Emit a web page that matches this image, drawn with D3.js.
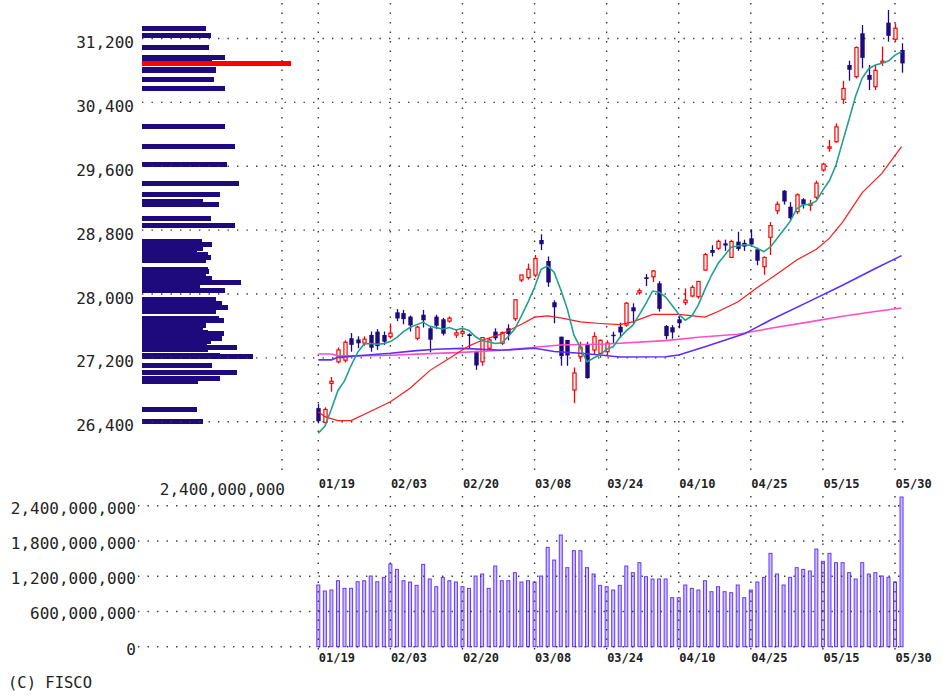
<!DOCTYPE html>
<html><head><meta charset="utf-8">
<script src="https://cdn.jsdelivr.net/npm/d3@7"></script>
<style>body{margin:0;background:#fff}svg{display:block}</style>
</head><body>
<svg id="c" width="948" height="696"></svg>
<script>
// ---------- data ----------
const dates = ["01/19","01/20","01/23","01/24","01/25","01/26","01/27","01/30","01/31","02/01","02/02","02/03","02/06","02/07","02/08","02/09","02/10","02/13","02/14","02/15","02/16","02/17","02/20","02/21","02/22","02/24","02/27","02/28","03/01","03/02","03/03","03/06","03/07","03/08","03/09","03/10","03/13","03/14","03/15","03/16","03/17","03/20","03/22","03/23","03/24","03/27","03/28","03/29","03/30","03/31","04/03","04/04","04/05","04/06","04/07","04/10","04/11","04/12","04/13","04/14","04/17","04/18","04/19","04/20","04/21","04/24","04/25","04/26","04/27","04/28","05/01","05/02","05/08","05/09","05/10","05/11","05/12","05/15","05/16","05/17","05/18","05/19","05/22","05/23","05/24","05/25","05/26","05/29","05/30","05/31"];
const open = [26570,26390,26880,27150,27170,27445,27430,27385,27486,27528,27486,27465,27770,27760,27716,27445,27740,27570,27716,27683,27660,27486,27507,27495,27280,27150,27320,27528,27382,27570,27690,28175,28205,28237,28676,28413,27896,27465,27424,26797,27214,27361,27298,27257,27277,27490,27590,27611,27833,28016,28209,28216,28134,27599,27583,27683,27891,27975,27966,28300,28551,28572,28634,28459,28655,28640,28697,28559,28342,28710,29043,29294,29093,29031,29186,29114,29211,29553,29825,29907,30438,30868,30722,31265,30743,30596,30900,31398,31190,31056];
const high = [26620,26580,26960,27330,27420,27510,27470,27470,27530,27560,27530,27630,27810,27800,27730,27600,27800,27600,27740,27700,27720,27560,27560,27507,27290,27460,27450,27570,27530,27620,27930,28240,28380,28490,28747,28470,27920,27465,27424,27080,27400,27400,27520,27430,27420,27528,27640,27900,27883,28070,28250,28300,28160,27610,27610,27720,28070,28110,28162,28515,28610,28680,28680,28680,28780,28680,28810,28580,28470,28900,29160,29300,29150,29260,29200,29180,29420,29644,29929,30138,30670,30922,31100,31369,30868,30868,31097,31557,31390,31140];
const low = [26380,26360,26776,27130,27140,27277,27320,27350,27277,27300,27360,27440,27660,27620,27530,27420,27580,27270,27560,27480,27640,27450,27480,27320,27050,27100,27300,27420,27360,27420,27660,28150,28180,28210,28551,28090,27633,27101,27100,26632,27150,26940,27240,27200,27220,27382,27450,27590,27633,27990,28100,28150,27780,27430,27440,27570,27860,27960,27940,28290,28470,28550,28540,28450,28540,28540,28590,28360,28240,28488,29000,29120,28930,29000,29070,29040,29190,29532,29782,29895,30380,30671,30700,30827,30555,30555,30856,31160,31160,30772];
const close = [26405.23,26553.53,26906.04,27299.19,27395.01,27362.75,27382.56,27433.40,27327.11,27346.88,27402.05,27509.46,27693.65,27685.47,27606.46,27584.35,27670.98,27427.32,27602.77,27501.86,27696.44,27513.13,27531.94,27473.10,27104.32,27453.48,27423.96,27445.56,27516.53,27498.87,27927.47,28237.78,28309.16,28444.19,28623.15,28143.97,27832.96,27222.04,27229.48,27010.61,27333.79,26945.67,27466.61,27419.61,27385.25,27476.87,27518.25,27883.78,27782.93,28041.48,28188.15,28287.42,27813.26,27472.63,27518.31,27633.66,27923.37,28082.70,28156.97,28493.47,28514.78,28658.83,28606.76,28657.57,28564.37,28593.52,28620.07,28416.47,28457.68,28856.44,29123.18,29157.95,28949.88,29242.82,29122.18,29126.72,29388.30,29626.34,29842.99,30093.59,30573.93,30808.35,31086.82,30957.77,30682.68,30801.13,30916.31,31233.54,31328.16,30887.88];
// volume in millions of shares
const volume = [1050,948,965,1123,993,993,1106,1123,1203,1106,1180,1407,1316,1123,1101,1044,1401,1152,1021,1180,1123,1101,1021,993,1203,1237,993,1373,1123,1123,1260,1101,1123,1101,1203,1691,1475,1901,1345,1634,1634,1345,1237,1044,1021,965,1044,1373,1260,1430,1192,1152,1152,1152,834,834,1050,993,965,1123,936,1021,936,919,1050,834,965,1101,1180,1589,1237,1050,1180,1345,1316,1288,1662,1453,1589,1430,1430,1260,1152,1430,1237,1260,1203,1180,1101,2548];
// 5-day moving average (teal)
const ma5 = [26255.4,26342.2,26558.9,26791.0,26911.8,27103.3,27269.1,27374.6,27380.2,27370.5,27378.4,27403.8,27455.8,27527.5,27579.4,27615.9,27648.2,27594.9,27578.4,27557.5,27579.9,27548.3,27569.2,27543.3,27463.8,27415.2,27397.4,27380.1,27388.8,27467.7,27562.5,27725.2,27898.0,28083.5,28308.4,28351.7,28270.7,28053.3,27810.3,27487.8,27325.8,27148.3,27197.2,27235.3,27310.2,27338.8,27453.3,27536.8,27609.4,27740.7,27882.9,28036.8,28022.6,27960.6,27856.0,27745.1,27672.2,27726.1,27863.0,28058.0,28234.3,28381.4,28486.2,28586.3,28600.5,28616.2,28608.5,28570.4,28530.4,28588.8,28694.8,28802.3,28909.0,29066.1,29119.2,29119.9,29166.0,29301.3,29421.3,29615.6,29905.0,30189.0,30481.1,30704.1,30821.9,30867.4,30888.9,30918.3,30992.4,31033.4];
// 25-day MA (red), read at these day indices
const ma25Idx = [0,1,3,5,8,11,14,17,20,23,25,28,31,33,35,37,40,43,46,48,51,55,59,61,64,67,70,73,76,78,80,83,86,89];
const ma25Val = [26525,26463,26413,26413,26530,26650,26820,27040,27194,27350,27420,27500,27620,27710,27725,27700,27650,27630,27615,27650,27745,27745,27710,27780,27900,28080,28250,28425,28560,28700,28900,29270,29510,29845];
// 75-day MA (blue)
const ma75Idx = [0,2,3,11,15,18,22,28,33,36,40,43,46,53,55,59,65,69,75,80,85,89];
const ma75Val = [27175,27175,27206,27257,27290,27307,27319,27295,27320,27280,27257,27236,27210,27214,27236,27340,27500,27674,27910,28110,28320,28480];
// 200-day MA (pink)
const ma200Idx = [0,2,3,10,16,22,28,33,37,44,53,58,64,69,75,80,85,89];
const ma200Val = [27248,27248,27225,27230,27250,27268,27295,27332,27361,27374,27415,27457,27495,27570,27650,27720,27780,27825];

const priceTicks = [26400,27200,28000,28800,29600,30400,31200];
const volTicks = [0,600,1200,1800,2400];          // millions
const dateTicks = ["01/19","02/03","02/20","03/08","03/24","04/10","04/25","05/15","05/30"];
const profileMaxLabel = "2,400,000,000";
const copyright = "(C) FISCO";

// ---------- scales ----------
const svg = d3.select("#c");
const x = d3.scalePoint(dates, [318.3, 901.55]);
const y = d3.scaleLinear([26400, 31200], [421.7, 38.5]);
const yv = d3.scaleLinear([0, 2400], [646.7, 505.7]);
const xp = d3.scaleLinear([0, 2400], [142, 282]);

const NAVY = "#1f0a7d", RED = "#ff0000";
const MONO = "'DejaVu Sans Mono', 'Liberation Mono', monospace";
const dotted = g => g.attr("stroke", "#3a3a3a").attr("stroke-width", 1.4).attr("stroke-dasharray", "1.4,8.1").attr("fill", "none");

// ---------- volume-by-price profile ----------
const prof = svg.append("g").attr("shape-rendering", "crispEdges");
d3.range(dates.length - 1).forEach(i => {
  prof.append("rect").attr("x", xp(0)).attr("y", Math.round(y(close[i]) - 2.5))
    .attr("width", xp(volume[i]) - xp(0)).attr("height", 5)
    .attr("fill", NAVY);
});
const last = dates.length - 1;
prof.append("rect").attr("x", xp(0)).attr("y", Math.round(y(close[last]) - 2.5))
  .attr("width", xp(volume[last]) - xp(0)).attr("height", 5).attr("fill", RED);

// ---------- volume bars ----------
svg.append("g").selectAll("rect").data(dates).join("rect")
  .attr("x", d => x(d) - 1.5).attr("width", 3)
  .attr("y", (d, i) => yv(volume[i])).attr("height", (d, i) => yv(0) - yv(volume[i]))
  .attr("fill", "#cdbfff").attr("stroke", "#6236ff").attr("stroke-width", 1);

// ---------- grids ----------
const grid = svg.append("g");
priceTicks.forEach(p => grid.append("line").attr("x1", 142).attr("x2", 906).attr("y1", y(p)).attr("y2", y(p)).call(dotted));
volTicks.forEach(v => grid.append("line").attr("x1", 138).attr("x2", 906).attr("y1", yv(v)).attr("y2", yv(v)).call(dotted));
grid.append("line").attr("x1", xp(2400)).attr("x2", xp(2400)).attr("y1", 3).attr("y2", 471).call(dotted);
dateTicks.forEach(d => {
  grid.append("line").attr("x1", x(d)).attr("x2", x(d)).attr("y1", 3).attr("y2", 471).call(dotted);
  grid.append("line").attr("x1", x(d)).attr("x2", x(d)).attr("y1", 496).attr("y2", 651).call(dotted);
});

// ---------- candles ----------
const cg = svg.append("g");
dates.forEach((d, i) => {
  const up = close[i] >= open[i];
  const cx = Math.round(x(d)) + 0.5;
  const col = up ? RED : NAVY;
  cg.append("line").attr("x1", cx).attr("x2", cx).attr("y1", y(high[i])).attr("y2", y(low[i]))
    .attr("stroke", col).attr("stroke-width", 1.3);
  const top = y(Math.max(open[i], close[i])), bot = y(Math.min(open[i], close[i]));
  if (up) {
    cg.append("rect").attr("x", cx - 1.6).attr("width", 3.2).attr("y", top).attr("height", Math.max(bot - top, 1.2))
      .attr("fill", "#fff").attr("stroke", RED).attr("stroke-width", 1.2);
  } else {
    cg.append("rect").attr("x", cx - 2.2).attr("width", 4.4).attr("y", top).attr("height", Math.max(bot - top, 1.5))
      .attr("fill", NAVY);
  }
});

// ---------- moving averages ----------
const lineG = svg.append("g").attr("fill", "none");
const mk = (idx, val) => idx.map((k, j) => [x(dates[k]), y(val[j])]);
const ln = d3.line();
lineG.append("path").attr("d", ln(mk(ma200Idx, ma200Val))).attr("stroke", "#ff4fc8").attr("stroke-width", 1.6);
lineG.append("path").attr("d", ln(mk(ma75Idx, ma75Val))).attr("stroke", "#5a2eff").attr("stroke-width", 1.6);
lineG.append("path").attr("d", ln(mk(ma25Idx, ma25Val))).attr("stroke", "#ff1a1a").attr("stroke-width", 1.2);
lineG.append("path").attr("d", ln(dates.map((d, i) => [x(d), y(ma5[i])]))).attr("stroke", "#22a092").attr("stroke-width", 1.6);

// ---------- axes ----------
const pa = svg.append("g").attr("transform", "translate(142,0)")
  .call(d3.axisLeft(y).tickValues(priceTicks).tickFormat(d3.format(",")).tickSize(0).tickPadding(8));
const va = svg.append("g").attr("transform", "translate(140,0)")
  .call(d3.axisLeft(yv).tickValues(volTicks).tickFormat(v => d3.format(",")(v * 1e6)).tickSize(0).tickPadding(4));
[pa, va].forEach(a => { a.select(".domain").remove(); a.selectAll("text").attr("font-family", MONO).attr("font-size", 16).attr("fill", "#222"); });
pa.selectAll("text").attr("dy", "0.57em");
va.selectAll("text").attr("dy", "0.46em");

const xa1 = svg.append("g").attr("transform", "translate(0,476)").call(d3.axisBottom(x).tickValues(dateTicks).tickSize(0).tickPadding(0));
const xa2 = svg.append("g").attr("transform", "translate(0,650)").call(d3.axisBottom(x).tickValues(dateTicks).tickSize(0).tickPadding(0));
[xa1, xa2].forEach(a => {
  a.select(".domain").remove();
  a.selectAll("text").attr("font-family", MONO).attr("font-size", 12).attr("font-weight", "bold")
    .attr("fill", "#222").attr("text-anchor", "start").attr("y", 0).attr("dy", "0.98em");
});

svg.append("text").attr("x", 285).attr("y", 494.5).attr("text-anchor", "end")
  .attr("font-family", MONO).attr("font-size", 16).attr("fill", "#222").text(profileMaxLabel);
svg.append("text").attr("x", 8).attr("y", 688).attr("font-family", MONO).attr("font-size", 15.5)
  .attr("fill", "#222").text(copyright);
</script>
</body></html>
